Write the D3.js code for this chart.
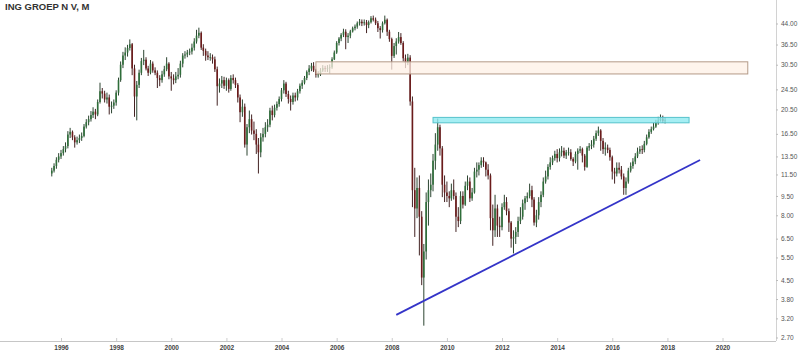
<!DOCTYPE html>
<html>
<head>
<meta charset="utf-8">
<script src="https://cdn.jsdelivr.net/npm/d3@7"></script>
<style>
  body { margin: 0; background: #fff; }
  svg { display: block; }
</style>
</head>
<body>
<div id="chart"></div>
<script>
// monthly candles, Sep 1995 .. Dec 2017 (open = previous close)
var firstMonth = new Date(1995, 8, 1);
var firstOpen = 11.6;
var closes = [
  11.9, 12.4, 13.1, 13.5,
  13.9, 14.4, 14.8, 16.4, 16.8, 16.0, 15.3, 15.6, 15.9, 16.2, 17.6, 18.3,
  18.8, 19.5, 20.1, 19.6, 21.9, 24.1, 23.6, 22.4, 22.8, 21.0, 21.2, 21.8,
  23.8, 26.6, 30.5, 33.1, 34.0, 35.4, 36.6, 29.5, 23.0, 25.5, 28.4, 31.5,
  31.9, 29.5, 28.4, 30.8, 29.0, 28.4, 27.1, 26.6, 28.0, 29.3, 30.8, 27.5,
  27.0, 26.6, 27.5, 27.9, 30.8, 33.1, 33.4, 34.0, 34.3, 35.5, 37.5, 39.5,
  40.5, 35.5, 34.5, 33.1, 32.6, 32.6, 32.0, 29.3, 25.2, 25.8, 26.6, 25.3,
  26.6, 24.6, 27.1, 26.6, 25.5, 22.8, 20.0, 21.0, 15.0, 17.5, 18.8, 17.0,
  16.5, 15.0, 14.0, 16.0, 16.5, 17.5, 17.9, 20.3, 19.5, 20.8, 21.5, 22.5,
  24.3, 25.8, 23.5, 22.5, 21.9, 23.2, 22.8, 24.1, 25.3, 26.0, 27.1, 28.6,
  29.5, 30.2, 29.0, 27.9, 28.0, 29.0, 29.6, 29.4, 29.6, 29.8, 32.0, 34.0,
  37.0, 38.5, 39.8, 40.9, 39.0, 39.5, 41.0, 42.2, 42.8, 44.1, 44.7, 44.1,
  44.5, 43.4, 44.5, 46.1, 45.5, 44.1, 42.2, 41.5, 44.1, 45.5, 40.9, 38.3,
  33.0, 36.0, 37.5, 39.0, 37.0, 32.3, 31.0, 32.5, 22.0, 10.0, 8.5, 10.2,
  7.9, 4.6, 5.8, 9.0, 10.0, 10.5, 13.0, 15.0, 17.5, 14.5, 10.5, 9.8,
  9.5, 9.3, 10.0, 9.5, 7.9, 7.6, 9.5, 8.8, 10.4, 10.8, 9.3, 9.8,
  11.8, 12.0, 12.5, 13.0, 12.8, 12.0, 11.4, 7.8, 7.0, 8.5, 7.3, 7.2,
  8.6, 9.0, 8.3, 7.5, 6.5, 6.6, 6.9, 7.6, 7.9, 8.9, 9.3, 9.5,
  10.0, 9.2, 7.5, 8.0, 9.0, 9.6, 10.8, 11.3, 12.3, 12.8, 13.3, 13.8,
  13.3, 14.0, 14.2, 13.6, 14.0, 14.0, 13.2, 12.9, 13.8, 14.2, 14.4, 13.6,
  12.3, 14.6, 14.8, 15.0, 15.8, 16.6, 17.0, 15.5, 14.4, 14.6, 14.3, 13.4,
  11.8, 11.6, 12.2, 12.0, 11.3, 10.2, 10.8, 11.9, 12.4, 12.9, 13.5, 14.1,
  14.4, 14.3, 15.1, 16.0, 16.8, 17.2, 17.6, 18.2, 18.6, 18.9, 18.5, 18.6
];
var highs = [
  12.2, 12.7, 13.4, 13.9,
  14.3, 14.8, 15.3, 16.9, 17.4, 17.0, 16.3, 16.1, 16.4, 16.7, 18.0, 18.8,
  19.4, 20.2, 20.9, 20.6, 22.4, 26.0, 24.8, 24.2, 23.8, 23.4, 22.0, 22.4,
  24.3, 27.2, 31.4, 34.2, 35.6, 36.4, 38.2, 37.0, 30.5, 26.4, 29.2, 32.4,
  34.8, 32.6, 30.2, 31.8, 31.4, 29.8, 29.0, 27.8, 28.9, 30.2, 32.6, 31.2,
  28.6, 28.0, 28.6, 29.6, 31.6, 33.8, 34.4, 34.8, 35.2, 36.8, 38.6, 41.6,
  42.4, 41.0, 36.6, 35.2, 34.4, 33.8, 33.4, 32.8, 30.0, 27.0, 27.6, 27.4,
  27.2, 27.0, 27.8, 28.0, 27.2, 25.9, 23.4, 22.4, 21.6, 18.0, 20.3, 19.6,
  18.4, 17.2, 15.9, 16.6, 17.4, 18.3, 18.8, 20.8, 21.2, 21.4, 22.0, 23.0,
  24.8, 26.6, 26.2, 24.2, 23.2, 23.8, 23.8, 24.6, 25.8, 26.6, 27.6, 29.0,
  30.4, 31.0, 31.2, 29.4, 28.8, 29.6, 30.4, 30.2, 30.4, 30.6, 32.6, 34.6,
  37.6, 39.0, 40.4, 42.0, 41.8, 40.4, 41.6, 42.8, 43.6, 44.8, 45.8, 45.6,
  45.6, 45.4, 45.2, 47.0, 47.2, 46.4, 45.0, 43.0, 44.8, 47.2, 46.0, 41.6,
  38.8, 37.0, 38.6, 40.8, 40.4, 37.6, 33.4, 33.6, 33.2, 23.0, 12.2, 11.2,
  11.4, 8.3, 6.2, 9.8, 11.0, 11.6, 13.8, 16.6, 18.9, 17.9, 14.8, 11.4,
  10.8, 9.9, 10.6, 11.0, 9.8, 8.6, 9.9, 9.9, 10.8, 11.4, 11.2, 10.2,
  12.2, 12.8, 12.8, 13.4, 13.4, 12.9, 12.6, 11.6, 8.8, 9.6, 8.8, 7.9,
  8.9, 9.6, 9.4, 8.5, 7.6, 7.0, 7.2, 7.9, 8.6, 9.2, 9.5, 9.8,
  10.6, 10.4, 9.4, 8.4, 9.4, 9.9, 11.2, 11.9, 12.6, 13.4, 13.6, 14.2,
  14.4, 14.5, 14.8, 14.6, 14.3, 14.6, 14.4, 13.4, 14.1, 14.5, 14.8, 14.6,
  13.8, 14.8, 15.2, 15.6, 16.2, 17.0, 17.6, 17.2, 15.9, 15.3, 15.0, 14.6,
  13.6, 12.2, 12.8, 12.8, 12.4, 11.6, 11.2, 12.2, 12.8, 13.3, 13.9, 14.6,
  14.8, 14.9, 15.5, 16.4, 17.2, 17.6, 18.2, 18.7, 19.2, 19.6, 19.4, 19.1
];
var lows = [
  11.3, 11.7, 12.1, 12.8,
  13.2, 13.6, 14.0, 14.5, 15.9, 15.6, 14.6, 15.0, 15.2, 15.5, 16.0, 17.3,
  17.8, 18.4, 19.0, 18.8, 19.3, 21.6, 22.6, 21.8, 21.6, 19.6, 19.8, 20.6,
  21.2, 23.2, 26.2, 29.6, 31.8, 32.8, 34.6, 27.8, 19.2, 18.6, 24.8, 27.8,
  30.4, 29.0, 27.6, 28.0, 28.4, 27.8, 24.8, 25.2, 26.0, 27.4, 28.8, 26.8,
  24.2, 25.6, 25.9, 26.8, 27.2, 29.8, 32.2, 32.6, 33.2, 33.4, 34.6, 36.8,
  38.6, 34.8, 33.0, 31.6, 31.8, 31.6, 30.8, 28.6, 21.2, 23.8, 24.8, 24.6,
  24.2, 23.8, 24.2, 25.8, 24.8, 21.8, 18.3, 19.2, 14.6, 13.6, 16.6, 16.4,
  15.6, 13.8, 11.6, 13.4, 15.4, 16.0, 16.8, 17.5, 18.6, 19.1, 20.3, 21.0,
  22.0, 23.6, 22.9, 21.6, 20.3, 21.4, 22.0, 22.2, 23.6, 24.6, 25.6, 26.6,
  27.8, 28.8, 28.6, 27.2, 27.2, 27.6, 28.6, 28.6, 28.6, 28.2, 29.4, 31.8,
  33.6, 36.2, 37.6, 39.0, 35.0, 37.0, 38.6, 40.6, 41.4, 42.0, 43.2, 43.0,
  43.2, 40.4, 42.2, 44.0, 44.8, 43.4, 40.8, 38.5, 40.6, 43.6, 39.4, 37.4,
  29.2, 32.4, 33.4, 36.8, 36.4, 31.4, 29.6, 30.4, 21.2, 8.6, 6.6, 7.8,
  5.6, 4.3, 3.0, 5.4, 7.3, 9.4, 9.9, 12.0, 14.2, 13.6, 9.4, 9.0,
  9.0, 8.6, 9.1, 9.2, 6.9, 7.2, 7.4, 8.5, 8.7, 10.0, 9.0, 9.1,
  9.7, 11.2, 11.4, 12.2, 12.3, 11.3, 11.0, 7.0, 6.1, 6.6, 6.6, 6.6,
  7.0, 8.4, 8.0, 6.9, 6.0, 5.7, 6.2, 6.6, 7.4, 7.7, 8.4, 9.0,
  9.3, 8.6, 7.3, 7.2, 7.7, 8.6, 9.4, 10.6, 11.0, 12.0, 12.5, 13.0,
  12.8, 12.9, 13.5, 13.3, 13.2, 13.6, 13.0, 12.4, 12.7, 12.0, 13.9, 12.8,
  11.9, 12.2, 14.2, 14.4, 14.6, 15.5, 16.2, 14.2, 13.8, 13.6, 13.9, 13.0,
  11.0, 10.6, 11.3, 11.6, 11.0, 9.6, 9.6, 10.6, 11.7, 12.1, 12.6, 13.3,
  13.8, 13.8, 14.0, 14.9, 15.8, 16.5, 17.0, 17.4, 17.9, 18.4, 18.2, 18.1
];

var priceTicks = [2.7, 3.2, 3.8, 4.5, 5.5, 6.5, 8.0, 9.5, 11.5, 13.5, 16.5, 20.5, 24.5, 30.5, 36.5, 44.0];
var yearTicks = [1996, 1998, 2000, 2002, 2004, 2006, 2008, 2010, 2012, 2014, 2016, 2018, 2020];

// drawn zones: [start, end, low, high]
var resistZone = [new Date(2005, 3, 1), new Date(2020, 11, 1), 28.1, 31.3];
var topZone = [new Date(2009, 6, 1), new Date(2018, 9, 15), 18.2, 19.1];
// trend line: [date, price] pairs
var trendLine = [[new Date(2008, 2, 1), 3.3], [new Date(2019, 2, 10), 13.08]];

var title = "ING GROEP N V, M";

var W = 799, H = 352;
var axisX = 776, axisY = 341;

var candles = closes.map(function (c, i) {
  return {
    date: d3.timeMonth.offset(firstMonth, i),
    open: i === 0 ? firstOpen : closes[i - 1],
    high: highs[i],
    low: lows[i],
    close: c
  };
});

var x = d3.scaleTime()
  .domain([new Date(1996, 0, 1), new Date(2020, 0, 1)])
  .range([61, 722.5]);
var y = d3.scaleLog()
  .domain([2.7, 44])
  .range([337.5, 23.5]);

var svg = d3.select("#chart").append("svg")
  .attr("width", W)
  .attr("height", H);

svg.append("text")
  .attr("x", 5).attr("y", 10)
  .style("font-family", "Liberation Sans, Arial, sans-serif")
  .style("font-size", "9.5px")
  .style("font-weight", "bold")
  .style("fill", "#333")
  .text(title);

// candles
var upCol = "#2f6e3a", downCol = "#6b1b1b";
var g = svg.append("g");
var cg = g.selectAll("g").data(candles).enter().append("g");
cg.append("line")
  .attr("x1", function (d) { return x(d.date); })
  .attr("x2", function (d) { return x(d.date); })
  .attr("y1", function (d) { return y(Math.max(d.high, d.open, d.close)); })
  .attr("y2", function (d) { return y(Math.min(d.low, d.open, d.close)); })
  .attr("stroke", function (d) { return d.close >= d.open ? "#14301a" : "#2e0a0a"; })
  .attr("stroke-width", 0.9);
cg.append("rect")
  .attr("x", function (d) { return x(d.date) - 0.8; })
  .attr("width", 1.6)
  .attr("y", function (d) { return y(Math.max(d.open, d.close)); })
  .attr("height", function (d) { return Math.max(0.8, Math.abs(y(d.open) - y(d.close))); })
  .attr("fill", function (d) { return d.close >= d.open ? upCol : downCol; });

// zones, drawn over the candles, half see-through
function zone(z, fill, stroke, op) {
  svg.append("rect")
    .attr("x", x(z[0]))
    .attr("y", y(z[3]))
    .attr("width", x(z[1]) - x(z[0]))
    .attr("height", y(z[2]) - y(z[3]))
    .attr("fill", fill)
    .attr("fill-opacity", op)
    .attr("stroke", stroke)
    .attr("stroke-width", 1);
}
zone(resistZone, "#fdf0e6", "#b39a88", 0.75);
zone(topZone, "#8feaf0", "#56c2cb", 0.8);

// trend line
svg.append("line")
  .attr("x1", x(trendLine[0][0])).attr("y1", y(trendLine[0][1]))
  .attr("x2", x(trendLine[1][0])).attr("y2", y(trendLine[1][1]))
  .attr("stroke", "#3434c8")
  .attr("stroke-width", 1.8);

// axes
svg.append("line")
  .attr("x1", 0).attr("x2", axisX)
  .attr("y1", axisY + 0.5).attr("y2", axisY + 0.5)
  .attr("stroke", "#c6c6c6");
svg.append("line")
  .attr("x1", axisX + 0.5).attr("x2", axisX + 0.5)
  .attr("y1", 0).attr("y2", axisY)
  .attr("stroke", "#d2d2d2");

var yAxis = svg.append("g").attr("transform", "translate(" + axisX + ",0)")
  .call(d3.axisRight(y).tickValues(priceTicks).tickFormat(d3.format(".2f")).tickSize(2).tickPadding(3));
yAxis.select(".domain").remove();
yAxis.selectAll("line").attr("stroke", "#bbb");
yAxis.selectAll("text")
  .style("font-family", "Liberation Sans, Arial, sans-serif")
  .style("font-size", "6.5px")
  .attr("fill", "#555");

var xAxis = svg.append("g").attr("transform", "translate(0," + axisY + ")")
  .call(d3.axisTop(x).tickValues(yearTicks.map(function (t) { return new Date(t, 0, 1); }))
    .tickFormat(d3.timeFormat("%Y")).tickSize(3));
xAxis.select(".domain").remove();
xAxis.selectAll("line").attr("stroke", "#ccc");
xAxis.selectAll("text")
  .attr("y", 8.5)
  .attr("dy", 0)
  .style("font-family", "Liberation Sans, Arial, sans-serif")
  .style("font-size", "6.5px")
  .style("font-weight", "bold")
  .attr("fill", "#444");
</script>
</body>
</html>
